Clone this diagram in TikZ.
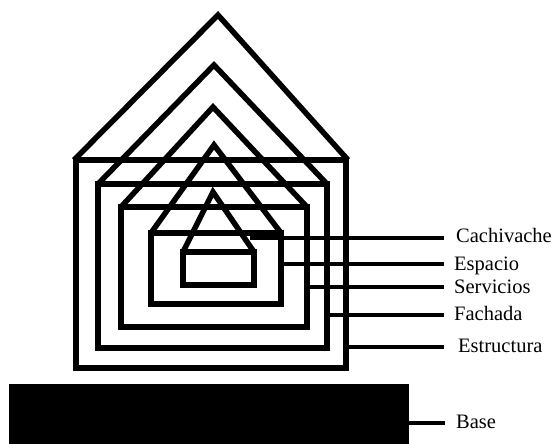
\documentclass[tikz,border=0pt]{standalone}
\usepackage{fontspec}
\setmainfont{Liberation Serif}
\begin{document}
\begin{tikzpicture}[x=1pt,y=-1pt,
  box/.style={line width=5.5pt, line join=miter, line cap=butt},
  lead/.style={line width=4.5pt},
  lab/.style={anchor=base west, inner sep=0pt, font=\fontsize{20.5}{24}\selectfont}]
\useasboundingbox (0,0) rectangle (552,444);
% houses: rectangles
\draw[box] (76,160) rectangle (346,368);
\draw[box] (98,184) rectangle (327,348);
\draw[box] (121,207) rectangle (307,327);
\draw[box] (151,233) rectangle (281,304);
\draw[box] (183,252) rectangle (254,285);
% roofs
\draw[box] (74,160) -- (218,15) -- (348,160);
\draw[box] (98,184) -- (214,65) -- (327,184);
\draw[box] (121,207) -- (213,107) -- (307,207);
\draw[box] (151,233) -- (214,145) -- (281,233);
\draw[box] (183,252) -- (213,192) -- (254,252);
% base
\fill (9,384) rectangle (409,444);
% connector start points
\coordinate (cS) at (250,238);
\coordinate (eS) at (281,264);
\coordinate (sS) at (307,287);
\coordinate (fS) at (327,315);
\coordinate (tS) at (346,347);
\coordinate (bS) at (409,423);
% connector end points
\coordinate (cE) at (444,238);
\coordinate (eE) at (444,264);
\coordinate (sE) at (444,287);
\coordinate (fE) at (444,315);
\coordinate (tE) at (444,347);
\coordinate (bE) at (445,423);
\draw[lead] (cS) -- (cE);
\draw[lead] (eS) -- (eE);
\draw[lead] (sS) -- (sE);
\draw[lead] (fS) -- (fE);
\draw[lead] (tS) -- (tE);
\draw[lead] (bS) -- (bE);
% labels
\node[lab] (cach) at (456,242) {Cachivache};
\node[lab] (esp) at (454,270) {Espacio};
\node[lab] (serv) at (454,293) {Servicios};
\node[lab] (fach) at (454,320) {Fachada};
\node[lab] (estr) at (458,352) {Estructura};
\node[lab] (base) at (456,428) {Base};
\end{tikzpicture}
\end{document}
